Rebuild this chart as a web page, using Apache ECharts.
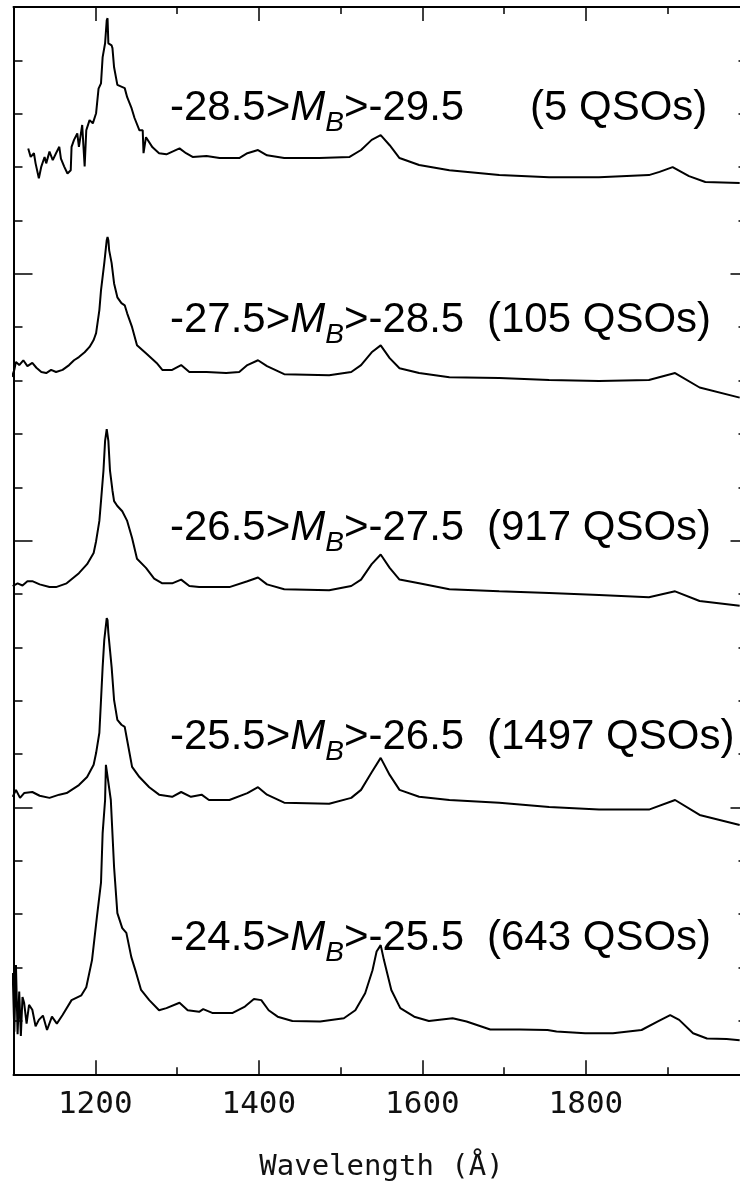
<!DOCTYPE html>
<html><head><meta charset="utf-8">
<script src="https://cdn.jsdelivr.net/npm/echarts@6/dist/echarts.min.js"></script>
<style>html,body{margin:0;padding:0;background:#fff}#c{width:740px;height:1183px}</style>
</head><body><div id="c"></div>
<script>
// ---- data (wavelength in Angstrom, flux in arbitrary offset units) ----
const wl1 = [1118,1121,1125,1127,1131,1134,1138,1140,1144,1148,1152,1156,1158,1162,1166,1170,1171,1174,1178,1180,1184,1187,1189,1193,1197,1201,1204,1207,1209,1212,1214,1215,1216,1220,1221,1223,1227,1236,1239,1244,1248,1254,1258,1259,1262,1270,1278,1287,1303,1311,1319,1336,1352,1376,1386,1399,1410,1431,1474,1511,1525,1538,1549,1560,1572,1596,1633,1694,1755,1816,1877,1890,1906,1926,1946,1988];
const flux1 = [17.35,17.19,17.26,17.07,16.79,17.01,17.19,17.07,17.29,17.13,17.26,17.38,17.16,17.01,16.88,16.94,17.38,17.51,17.63,17.38,17.79,17.01,17.69,17.88,17.82,18.01,18.47,18.57,19.06,19.32,19.75,19.79,19.32,19.28,19.23,18.87,18.54,18.48,18.31,18.12,17.92,17.69,17.69,17.26,17.56,17.37,17.26,17.24,17.35,17.26,17.19,17.21,17.17,17.17,17.26,17.32,17.22,17.17,17.17,17.19,17.32,17.51,17.60,17.41,17.17,17.04,16.94,16.85,16.81,16.81,16.85,16.91,17.00,16.83,16.72,16.70];

const wl2 = [1098,1101,1103,1107,1112,1117,1123,1128,1134,1140,1146,1152,1160,1168,1174,1180,1187,1193,1198,1201,1205,1207,1211,1214,1215,1216,1217,1220,1223,1227,1232,1236,1239,1245,1251,1262,1275,1282,1294,1305,1315,1336,1360,1376,1386,1399,1410,1431,1486,1513,1525,1538,1549,1560,1572,1596,1633,1694,1755,1816,1877,1909,1939,1988];
const flux2 = [13.07,13.20,13.35,13.29,13.38,13.27,13.33,13.24,13.16,13.14,13.20,13.16,13.20,13.29,13.38,13.44,13.53,13.63,13.76,13.89,14.32,14.69,15.20,15.63,15.69,15.63,15.44,15.20,14.82,14.56,14.45,14.41,14.26,14.00,13.66,13.51,13.33,13.20,13.20,13.29,13.16,13.16,13.14,13.16,13.29,13.38,13.27,13.12,13.10,13.16,13.29,13.53,13.66,13.42,13.23,13.14,13.06,13.05,13.01,12.99,13.01,13.14,12.87,12.68];

const wl3 = [1099,1105,1111,1117,1123,1132,1144,1152,1165,1180,1190,1198,1201,1205,1207,1210,1212,1214,1215,1216,1218,1221,1223,1227,1233,1239,1245,1251,1262,1272,1282,1294,1305,1315,1327,1364,1386,1399,1410,1431,1486,1513,1525,1538,1549,1560,1572,1596,1633,1694,1755,1816,1877,1909,1939,1988];
const flux3 = [9.15,9.20,9.16,9.24,9.24,9.18,9.13,9.13,9.20,9.39,9.56,9.77,9.99,10.37,10.74,11.31,11.87,12.09,12.09,11.87,11.31,10.94,10.74,10.65,10.55,10.37,10.05,9.66,9.49,9.29,9.20,9.20,9.27,9.15,9.13,9.13,9.24,9.31,9.18,9.09,9.07,9.15,9.27,9.56,9.74,9.49,9.27,9.20,9.09,9.05,9.02,8.98,8.94,9.05,8.87,8.78];

const wl4 = [1099,1103,1108,1113,1123,1132,1144,1156,1165,1180,1190,1198,1201,1205,1207,1209,1211,1214,1215,1216,1218,1220,1223,1227,1232,1236,1239,1245,1254,1266,1278,1294,1305,1317,1330,1339,1364,1386,1399,1410,1431,1486,1513,1525,1538,1549,1560,1572,1596,1633,1694,1755,1816,1877,1909,1939,1988];
const flux4 = [5.20,5.33,5.18,5.27,5.29,5.22,5.18,5.24,5.27,5.42,5.57,5.80,6.02,6.40,7.01,7.63,8.14,8.55,8.51,8.27,7.95,7.63,7.01,6.64,6.55,6.51,6.26,5.76,5.57,5.38,5.24,5.20,5.29,5.20,5.24,5.14,5.14,5.27,5.38,5.24,5.09,5.07,5.18,5.33,5.66,5.93,5.61,5.33,5.20,5.14,5.09,5.01,4.96,4.96,5.14,4.86,4.67];

const wl5 = [1099,1101,1103,1105,1107,1109,1111,1113,1116,1119,1123,1127,1131,1136,1141,1147,1153,1160,1171,1183,1189,1196,1202,1207,1209,1212,1213,1215,1219,1223,1227,1233,1238,1244,1250,1256,1266,1278,1287,1303,1313,1327,1332,1343,1368,1383,1394,1403,1412,1423,1441,1475,1504,1518,1530,1539,1544,1549,1553,1562,1573,1590,1608,1637,1654,1683,1719,1753,1764,1799,1833,1868,1888,1903,1914,1931,1948,1972,1988];
const flux5 = [1.90,0.80,2.05,0.75,1.55,0.72,1.45,1.34,0.95,1.30,1.21,0.90,1.02,1.10,0.83,1.08,0.95,1.11,1.39,1.48,1.63,2.14,2.95,3.59,4.52,5.14,5.80,5.80,5.14,3.88,3.02,2.74,2.65,2.20,1.90,1.58,1.39,1.20,1.24,1.34,1.20,1.17,1.22,1.15,1.15,1.27,1.41,1.39,1.20,1.08,1.00,0.99,1.05,1.20,1.52,1.95,2.30,2.42,2.14,1.58,1.24,1.08,1.00,1.05,0.99,0.84,0.84,0.83,0.80,0.77,0.77,0.83,0.99,1.11,1.02,0.77,0.67,0.66,0.64];

const magBright = ['-28.5','-27.5','-26.5','-25.5','-24.5'];
const magFaint  = ['-29.5','-28.5','-27.5','-26.5','-25.5'];
const qsoCounts = ['(5 QSOs)','(105 QSOs)','(917 QSOs)','(1497 QSOs)','(643 QSOs)'];
const majorXTicks = [1200,1400,1600,1800];
const minorXTicks = [1300,1500,1700,1900];
const xTitle = 'Wavelength (Å)';

// ---- layout / style ----
const SANS = "'Liberation Sans', Arial, Helvetica, sans-serif";
const MONO = "'DejaVu Sans Mono', monospace";
const labelCenterY = [108.75, 320.5, 528.5, 737.5, 938.75];
const countX = [530, 487, 487, 487, 487];

const wls = [wl1, wl2, wl3, wl4, wl5];
const fluxes = [flux1, flux2, flux3, flux4, flux5];

const chart = echarts.init(document.getElementById('c'), null, {renderer: 'canvas'});

function xAxisDef(pos, ticks, len, labels, line) {
  return {
    type: 'value', position: pos, min: 1100, max: 2000,
    axisLine: {show: line, onZero: false, lineStyle: {color: '#000', width: 2}},
    axisTick: {show: true, inside: true, length: len, customValues: ticks, lineStyle: {color: '#000', width: 1.5}},
    axisLabel: labels ? {show: true, customValues: ticks, margin: 15, fontFamily: MONO, fontSize: 31, color: '#111',
      formatter: v => String(v)} : {show: false},
    splitLine: {show: false},
    name: labels ? xTitle : '',
    nameLocation: 'middle', nameGap: 79,
    nameTextStyle: {fontFamily: MONO, fontSize: 29, color: '#111'}
  };
}
function yAxisDef(pos, len, mlen) {
  return {
    type: 'value', position: pos, min: 0, max: 20, interval: 5,
    axisLine: {show: true, onZero: false, lineStyle: {color: '#000', width: 2}},
    axisTick: {show: true, inside: true, length: len, lineStyle: {color: '#000', width: 1.5}},
    minorTick: {show: true, splitNumber: 5, length: mlen, lineStyle: {color: '#000', width: 1.5}},
    axisLabel: {show: false},
    splitLine: {show: false}, minorSplitLine: {show: false}
  };
}

const series = wls.map((w, k) => ({
  type: 'line',
  data: w.map((x, i) => [x, fluxes[k][i]]),
  showSymbol: false, symbol: 'none',
  lineStyle: {color: '#000', width: 2},
  silent: true, animation: false
}));

const graphics = [];
for (let k = 0; k < 5; k++) {
  graphics.push({
    type: 'text', x: 170, y: labelCenterY[k], silent: true,
    style: {
      text: '{n|' + magBright[k] + '>}{i|M}{s|B}{n|>' + magFaint[k] + '}',
      align: 'left', verticalAlign: 'middle',
      rich: {
        n: {fontFamily: SANS, fontSize: 42, lineHeight: 42, fill: '#000'},
        i: {fontFamily: SANS, fontSize: 42, fontStyle: 'italic', lineHeight: 42, fill: '#000'},
        s: {fontFamily: SANS, fontSize: 28, fontStyle: 'italic', height: 13, lineHeight: 13, verticalAlign: 'bottom', fill: '#000'}
      }
    }
  });
  graphics.push({
    type: 'text', x: countX[k], y: labelCenterY[k], silent: true,
    style: {text: qsoCounts[k], align: 'left', verticalAlign: 'middle',
      fontFamily: SANS, fontSize: 42, fill: '#000'}
  });
}

chart.setOption({
  animation: false,
  backgroundColor: '#fff',
  grid: {left: 13.5, top: 7, width: 736, height: 1067.3, containLabel: false, outerBoundsMode: 'none'},
  xAxis: [
    xAxisDef('bottom', majorXTicks, 14, true, true),
    xAxisDef('bottom', minorXTicks, 7, false, false),
    xAxisDef('top', majorXTicks, 14, false, true),
    xAxisDef('top', minorXTicks, 7, false, false)
  ],
  yAxis: [yAxisDef('left', 19, 9), yAxisDef('right', 19, 11)],
  series: series,
  graphic: graphics
});
</script></body></html>
